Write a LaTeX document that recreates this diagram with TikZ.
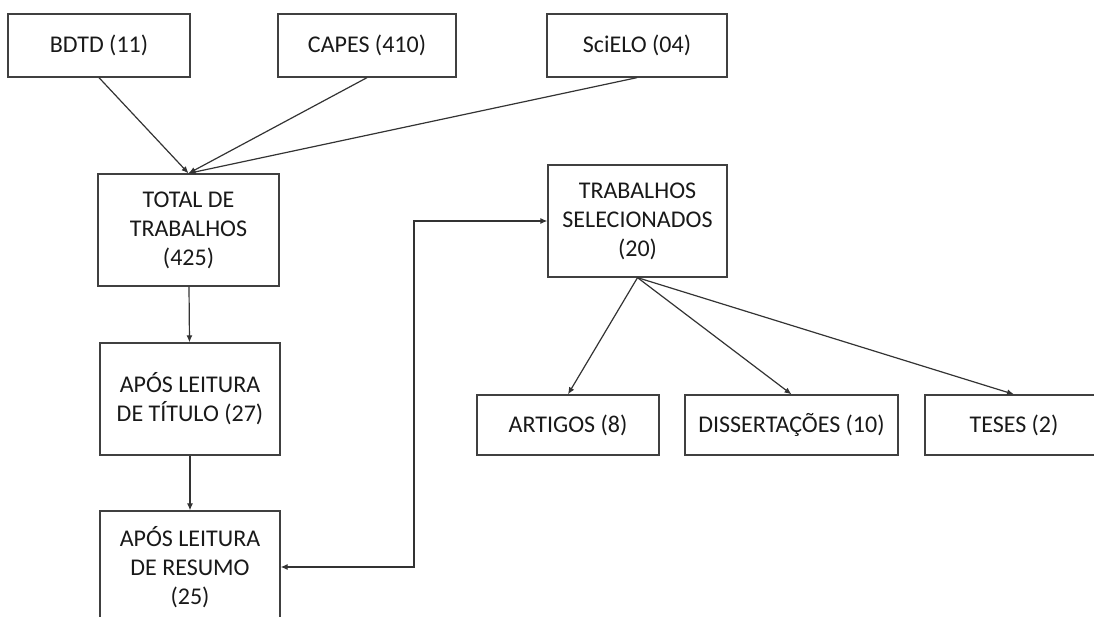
\documentclass[tikz,border=0pt]{standalone}
\usepackage{fontspec}
\setmainfont{Carlito}
\usetikzlibrary{arrows.meta,calc}

\begin{document}
\begin{tikzpicture}[x=1pt,y=-1pt,
    box/.style={draw=black!75, line width=1.3pt, text=black!90, align=center,
      inner sep=0pt, font=\fontsize{24}{29}\selectfont},
    link/.style={draw=black!80, line width=1.2pt, -{Latex[length=7pt,width=6pt]}}]
    \useasboundingbox (0,0) rectangle (1094,617);
    % fontes
    \node [box, minimum width=182, minimum height=63] (bdtd) at (99,45.5) {BDTD (11)};
    \node [box, minimum width=178, minimum height=63] (capes) at (367,45.5) {CAPES (410)};
    \node [box, minimum width=180, minimum height=63] (scielo) at (637,45.5) {SciELO (04)};
    % etapas
    \node [box, minimum width=181, minimum height=112] (total) at (188.5,230) {TOTAL DE\\TRABALHOS\\(425)};
    \node [box, minimum width=180, minimum height=112] (titulo) at (190,399) {APÓS LEITURA\\DE TÍTULO (27)};
    \node [box, minimum width=180, minimum height=112] (resumo) at (190,567) {APÓS LEITURA\\DE RESUMO\\(25)};
    \node [box, minimum width=179, minimum height=112] (sel) at (637.5,221) {TRABALHOS\\SELECIONADOS\\(20)};
    % tipos
    \node [box, minimum width=182, minimum height=60] (artigos) at (568,425) {ARTIGOS (8)};
    \node [box, minimum width=213, minimum height=60] (diss) at (791.5,425) {DISSERTAÇÕES (10)};
    \node [box, minimum width=178, minimum height=60] (teses) at (1014,425) {TESES (2)};
    \draw [link] (bdtd.south) -- (total.north);
    \draw [link] (capes.south) -- (total.north);
    \draw [link] (scielo.south) -- (total.north);
    \draw [link] (total) -- (titulo);
    \draw [link] (titulo) -- (resumo);
    \draw [link, {Latex[length=7pt,width=6pt]}-{Latex[length=7pt,width=6pt]}]
      (resumo.east) -| ($(resumo.east)!.5!(sel.west)$) |- (sel.west);
    \draw [link] (sel.south) -- (artigos.north);
    \draw [link] (sel.south) -- (diss.north);
    \draw [link] (sel.south) -- (teses.north);
\end{tikzpicture}
\end{document}
